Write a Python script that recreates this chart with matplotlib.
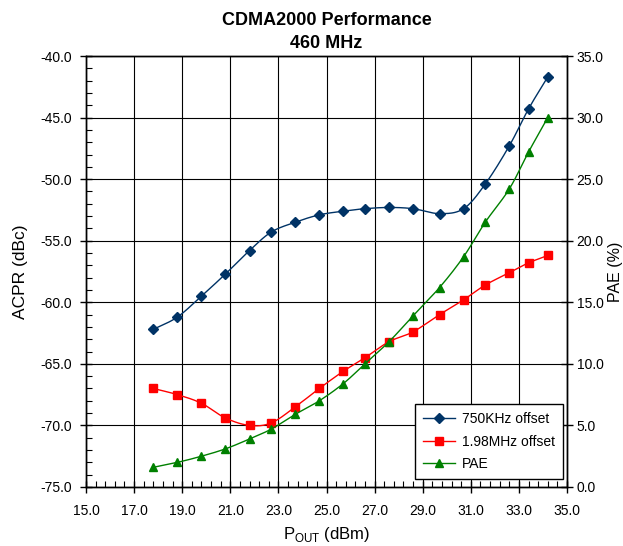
import numpy as np
import matplotlib.pyplot as plt
from matplotlib.ticker import FixedLocator, MultipleLocator, FormatStrFormatter

plt.rcParams['font.family'] = ['Liberation Sans', 'DejaVu Sans']
plt.rcParams['mathtext.fontset'] = 'custom'
plt.rcParams['mathtext.rm'] = 'Liberation Sans'

# measured output power (dBm)
pout = [17.8, 18.8, 19.8, 20.8, 21.8, 22.7, 23.7, 24.7, 25.7,
        26.6, 27.6, 28.6, 29.7, 30.7, 31.6, 32.6, 33.4, 34.2]
# ACPR at 750 kHz offset (dBc)
acpr_750k = [-62.2, -61.2, -59.5, -57.7, -55.8, -54.3, -53.5, -52.9, -52.6,
             -52.4, -52.3, -52.4, -52.8, -52.4, -50.4, -47.3, -44.3, -41.7]
# ACPR at 1.98 MHz offset (dBc)
acpr_198m = [-67.0, -67.5, -68.2, -69.4, -70.0, -69.8, -68.5, -67.0, -65.6,
             -64.5, -63.2, -62.4, -61.0, -59.8, -58.6, -57.6, -56.8, -56.2]
# power added efficiency (%)
pae = [1.6, 2.0, 2.5, 3.1, 3.9, 4.7, 5.9, 7.0, 8.4,
       10.0, 11.8, 13.9, 16.2, 18.7, 21.5, 24.2, 27.2, 30.0]


def smooth(x, y, n=20):
    """Catmull-Rom curve through the points, like a spreadsheet smoothed line."""
    p = np.column_stack([x, y]).astype(float)
    p = np.vstack([2 * p[0] - p[1], p, 2 * p[-1] - p[-2]])
    t = np.linspace(0, 1, n, endpoint=False)[:, None]
    out = []
    for i in range(1, len(p) - 2):
        p0, p1, p2, p3 = p[i - 1], p[i], p[i + 1], p[i + 2]
        seg = 0.5 * ((2 * p1) + (-p0 + p2) * t
                     + (2 * p0 - 5 * p1 + 4 * p2 - p3) * t ** 2
                     + (-p0 + 3 * p1 - 3 * p2 + p3) * t ** 3)
        out.append(seg)
    out.append(p[-2][None, :])
    out = np.vstack(out)
    return out[:, 0], out[:, 1]


blue = '#003366'
red = '#ff0000'
green = '#008000'

fig = plt.figure(figsize=(6.23, 5.46), dpi=100)
ax = fig.add_axes([86 / 623, 1 - 487 / 546, (567 - 86) / 623, (487 - 56) / 546])
ax2 = ax.twinx()

ax.set_xlim(15, 35)
ax.set_ylim(-75, -40)
ax2.set_ylim(0, 35)

ax.set_axisbelow(True)
ax.grid(True, which='major', color='black', linewidth=0.8)

sx, sy = smooth(pout, acpr_750k)
ax.plot(sx, sy, color=blue, linewidth=1.0)
ax.plot(pout, acpr_750k, linestyle='none', marker='D', markersize=5, color=blue)
sx, sy = smooth(pout, acpr_198m)
ax.plot(sx, sy, color=red, linewidth=1.0)
ax.plot(pout, acpr_198m, linestyle='none', marker='s', markersize=5.5, color=red)
sx, sy = smooth(pout, pae)
ax2.plot(sx, sy, color=green, linewidth=1.0)
ax2.plot(pout, pae, linestyle='none', marker='^', markersize=6, color=green)

ax.xaxis.set_major_locator(FixedLocator(np.arange(15, 35.01, 2)))
ax.xaxis.set_minor_locator(FixedLocator(np.arange(15, 35.01, 0.4)))
ax.yaxis.set_major_locator(MultipleLocator(5))
ax.yaxis.set_minor_locator(MultipleLocator(1))
ax2.yaxis.set_major_locator(MultipleLocator(5))
for a in (ax.xaxis, ax.yaxis, ax2.yaxis):
    a.set_major_formatter(FormatStrFormatter('%.1f'))

ax.tick_params(which='major', direction='inout', length=8, width=1, labelsize=10)
ax.tick_params(which='minor', direction='in', length=4, width=0.8)
ax.tick_params(axis='x', which='major', pad=8)
ax.tick_params(axis='y', which='major', pad=6)
ax.tick_params(axis='y', which='both', right=False)
ax.tick_params(axis='x', which='both', top=False)
ax2.tick_params(which='major', direction='inout', length=8, width=1, labelsize=10, pad=3)

for s in list(ax.spines.values()) + list(ax2.spines.values()):
    s.set_linewidth(1.0)

ax.set_xlabel(r'P$_{\mathrm{OUT}}$ (dBm)', fontsize=12, labelpad=5)
ax.set_ylabel('ACPR (dBc)', fontsize=12.5, labelpad=9)
ax2.set_ylabel('PAE (%)', fontsize=11.5, labelpad=3)
ax.set_title('CDMA2000 Performance\n460 MHz', fontsize=13, fontweight='bold',
             linespacing=1.45, pad=6)

h = [plt.Line2D([], [], color=blue, marker='D', markersize=5, linewidth=1),
     plt.Line2D([], [], color=red, marker='s', markersize=5.5, linewidth=1),
     plt.Line2D([], [], color=green, marker='^', markersize=6, linewidth=1)]
leg = ax2.legend(h, ['750KHz offset', '1.98MHz offset', 'PAE'], loc='lower right',
                 bbox_to_anchor=(0.992, 0.018), fontsize=10, fancybox=False,
                 framealpha=1, edgecolor='black', handlelength=2.3,
                 handletextpad=0.5, borderpad=0.6, labelspacing=0.6,
                 borderaxespad=0)
leg.get_frame().set_linewidth(1.0)

fig.savefig('out.png', dpi=100)
